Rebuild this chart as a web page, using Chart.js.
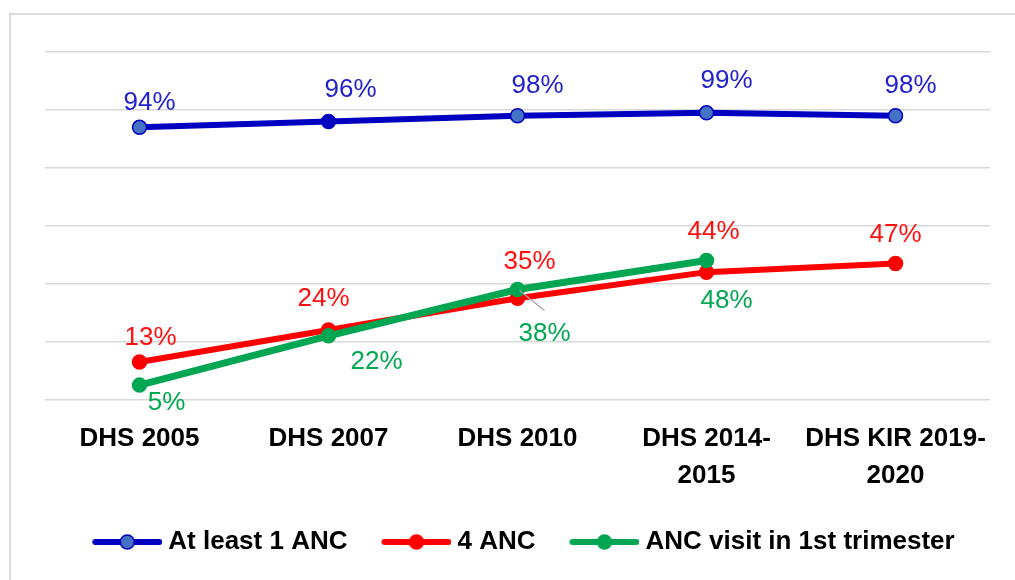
<!DOCTYPE html>
<html><head><meta charset="utf-8">
<script src="https://cdn.jsdelivr.net/npm/chart.js@4"></script>
<style>html,body{margin:0;padding:0;background:#fff}#wrap{width:1015px;height:580px;position:relative}</style>
</head><body><div id="wrap"><canvas id="c"></canvas></div>
<script>
const categories = ['DHS 2005', 'DHS 2007', 'DHS 2010', ['DHS 2014-', '2015'], ['DHS KIR 2019-', '2020']];
const seriesNames = ['At least 1 ANC', '4 ANC', 'ANC visit in 1st trimester'];
const atLeast1ANC = [94, 96, 98, 99, 98];
const fourANC = [13, 24, 35, 44, 47];
const firstTrimester = [5, 22, 38, 48, null];
const yTicks = [0, 20, 40, 60, 80, 100, 120];

// label placement (offsets from the point, in px) - style only
const labelOffsets = [
  [[10,-24],[22,-32],[20,-30],[20,-32],[15,-30]],
  [[11,-24],[-5,-31],[12,-36],[7,-40],[0,-29]],
  [[27,18],[48,26],[27,44],[20,40],[0,0]]
];
const labelColors = ['#2222cc', '#ff1010', '#00a850'];
const lineColors = ['#0000c0', '#ff0000', '#00a651'];
const pointFills = [['#4472c4','#0000c0','#4472c4','#4472c4','#4472c4'], '#ff0000', '#00a651'];

function legendIcon(color, fill) {
  const c = document.createElement('canvas');
  c.width = 89; c.height = 18;
  const x = c.getContext('2d');
  x.strokeStyle = color; x.lineWidth = 6; x.lineCap = 'round';
  x.beginPath(); x.moveTo(22, 9); x.lineTo(86, 9); x.stroke();
  x.beginPath(); x.arc(54, 9, 7, 0, Math.PI * 2);
  x.fillStyle = fill; x.fill(); x.lineWidth = 1.5; x.stroke();
  return c;
}
const icons = [legendIcon(lineColors[0], '#4472c4'), legendIcon(lineColors[1], lineColors[1]), legendIcon(lineColors[2], lineColors[2])];

const borderPlugin = {
  id: 'frame',
  beforeDraw(chart) {
    const ctx = chart.ctx;
    ctx.save();
    ctx.fillStyle = '#fff';
    ctx.fillRect(0, 0, chart.width, chart.height);
    ctx.strokeStyle = '#d9d9d9';
    ctx.lineWidth = 2;
    ctx.strokeRect(10, 14, chart.width + 20, chart.height + 20);
    ctx.restore();
  }
};

const labelPlugin = {
  id: 'valueLabels',
  afterDatasetsDraw(chart) {
    const ctx = chart.ctx;
    ctx.save();
    ctx.font = '26px "Liberation Sans", Arial, sans-serif';
    ctx.textAlign = 'center';
    ctx.textBaseline = 'middle';
    // leader line for DHS 2010 green label
    const gm = chart.getDatasetMeta(2);
    const p = gm.data[2];
    ctx.strokeStyle = '#a6a6a6';
    ctx.lineWidth = 1.2;
    ctx.beginPath(); ctx.moveTo(p.x + 2, p.y + 1); ctx.lineTo(p.x + 27, p.y + 21); ctx.stroke();
    chart.data.datasets.forEach((ds, di) => {
      const meta = chart.getDatasetMeta(di);
      ds.data.forEach((v, i) => {
        if (v === null) return;
        const el = meta.data[i];
        const off = labelOffsets[di][i];
        ctx.fillStyle = labelColors[di];
        ctx.fillText(v + '%', el.x + off[0], el.y + off[1]);
      });
    });
    ctx.restore();
  }
};

new Chart(document.getElementById('c'), {
  type: 'line',
  data: {
    labels: categories,
    datasets: [
      { label: seriesNames[0], data: atLeast1ANC, borderColor: lineColors[0], backgroundColor: lineColors[0],
        pointBackgroundColor: pointFills[0], pointBorderColor: lineColors[0], borderWidth: 6, pointRadius: 7, pointBorderWidth: 1.5, order: 2 },
      { label: seriesNames[1], data: fourANC, borderColor: lineColors[1], backgroundColor: lineColors[1],
        pointBackgroundColor: pointFills[1], pointBorderColor: lineColors[1], borderWidth: 6, pointRadius: 7, pointBorderWidth: 1.5, order: 1 },
      { label: seriesNames[2], data: firstTrimester, borderColor: lineColors[2], backgroundColor: lineColors[2],
        pointBackgroundColor: pointFills[2], pointBorderColor: lineColors[2], borderWidth: 7, pointRadius: 7, pointBorderWidth: 1.5, order: 0 }
    ]
  },
  options: {
    responsive: true, maintainAspectRatio: false, animation: false,
    layout: { padding: { left: 45, right: 25, top: 52, bottom: 15 } },
    scales: {
      x: {
        offset: true,
        grid: { display: false, offset: true }, border: { display: false },
        ticks: { color: '#000', maxRotation: 0, autoSkip: false, padding: 12,
          font: { family: '"Liberation Sans", Arial, sans-serif', size: 26, weight: 'bold', lineHeight: 1.45 } }
      },
      y: {
        min: yTicks[0], max: yTicks[yTicks.length - 1],
        afterBuildTicks(axis) { axis.ticks = yTicks.map(v => ({ value: v })); },
        grid: { color: '#d9d9d9', lineWidth: 1.5, drawTicks: false }, border: { display: false },
        ticks: { display: false }
      }
    },
    plugins: {
      tooltip: { enabled: false },
      legend: {
        position: 'bottom',
        labels: {
          usePointStyle: true, pointStyleWidth: 75, padding: 22, color: '#000',
          font: { family: '"Liberation Sans", Arial, sans-serif', size: 26, weight: 'bold' },
          generateLabels(chart) {
            return chart.data.datasets.map((ds, i) => ({
              text: ds.label, pointStyle: icons[i], fillStyle: lineColors[i], strokeStyle: lineColors[i],
              lineWidth: 0, hidden: false, datasetIndex: i, fontColor: '#000'
            }));
          }
        }
      }
    }
  },
  plugins: [borderPlugin, labelPlugin]
});
</script>
</body></html>
